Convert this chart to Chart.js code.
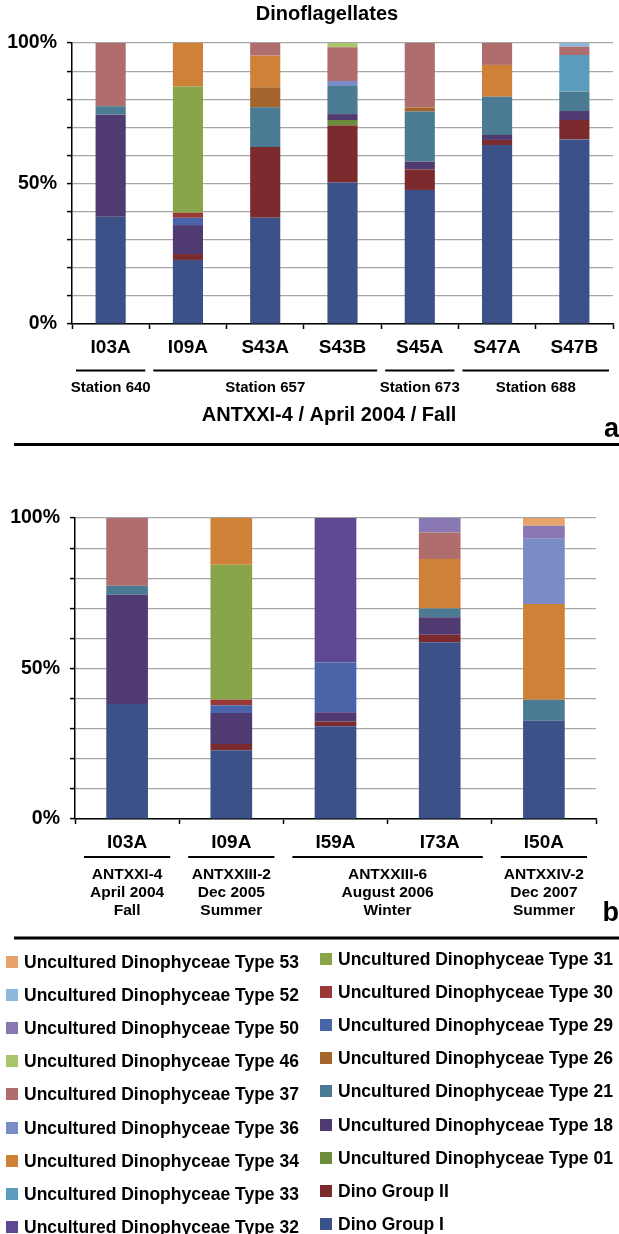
<!DOCTYPE html>
<html>
<head>
<meta charset="utf-8">
<script src="https://cdn.jsdelivr.net/npm/chart.js@4.4.1/dist/chart.umd.min.js"></script>
<style>
  body { margin: 0; background: #fff; }
  #page { position: relative; width: 619px; height: 1234px; background: #fff; overflow: hidden;
          font-family: "Liberation Sans", Arial, sans-serif; font-weight: bold; color: #000; }
  canvas { position: absolute; left: 0; }
  #chartA { top: 0; }
  #chartB { top: 455px; }
  .leg { position: absolute; font-size: 17.5px; line-height: 20px; white-space: nowrap; }
  .leg i { position: absolute; left: -18px; top: 4px; width: 12px; height: 12px; }
</style>
</head>
<body>
<div id="page">
  <canvas id="chartA" width="619" height="460"></canvas>
  <canvas id="chartB" width="619" height="500"></canvas>
</div>
<script>
const FONT = '"Liberation Sans", Arial, sans-serif';

// stack order, bottom to top
const seriesNames = [
  'Dino Group I', 'Dino Group II',
  'Uncultured Dinophyceae Type 01', 'Uncultured Dinophyceae Type 18',
  'Uncultured Dinophyceae Type 21', 'Uncultured Dinophyceae Type 26',
  'Uncultured Dinophyceae Type 29', 'Uncultured Dinophyceae Type 30',
  'Uncultured Dinophyceae Type 31', 'Uncultured Dinophyceae Type 32',
  'Uncultured Dinophyceae Type 33', 'Uncultured Dinophyceae Type 34',
  'Uncultured Dinophyceae Type 36', 'Uncultured Dinophyceae Type 37',
  'Uncultured Dinophyceae Type 46', 'Uncultured Dinophyceae Type 50',
  'Uncultured Dinophyceae Type 52', 'Uncultured Dinophyceae Type 53'
];
const seriesColors = [
  '#3d5189', '#7b2b2d', '#6b8c3a', '#4f3a72', '#4b7b92', '#a6652d',
  '#4a64aa', '#9a3838', '#89a54a', '#5e4891', '#5a9bbe', '#cf8138',
  '#7a8cc6', '#b06d6d', '#a8c66a', '#8a78b2', '#8db8dc', '#e6a46c'
];

const yTickLabels = [0, 50, 100];

// panel a
const categoriesA = ['I03A', 'I09A', 'S43A', 'S43B', 'S45A', 'S47A', 'S47B'];
const stationsA = ['Station 640', 'Station 657', 'Station 673', 'Station 688'];
const stationSpansA = [[0, 0], [1, 3], [4, 4], [5, 6]];
const cruiseA = 'ANTXXI-4 / April 2004 / Fall';

const a_dinoI  = [38.2, 22.8, 37.8, 50.4, 47.7, 63.7, 65.7];
const a_dinoII = [0, 2.1, 25.2, 20.2, 7.3, 1.8, 6.9];
const a_type01 = [0, 0, 0, 2.0, 0, 0, 0];
const a_type18 = [36.3, 10.3, 0, 2.1, 2.8, 1.8, 3.2];
const a_type21 = [3.0, 0, 14.1, 10.0, 17.8, 13.6, 6.9];
const a_type26 = [0, 0, 7.1, 0, 1.5, 0, 0];
const a_type29 = [0, 2.6, 0, 0, 0, 0, 0];
const a_type30 = [0, 1.8, 0, 0, 0, 0, 0];
const a_type31 = [0, 44.9, 0, 0, 0, 0, 0];
const a_type32 = [0, 0, 0, 0, 0, 0, 0];
const a_type33 = [0, 0, 0, 0, 0, 0, 13.0];
const a_type34 = [0, 15.5, 11.3, 0, 0, 11.3, 0];
const a_type36 = [0, 0, 0, 1.8, 0, 0, 0];
const a_type37 = [22.5, 0, 4.5, 12.0, 22.9, 7.8, 3.0];
const a_type46 = [0, 0, 0, 1.5, 0, 0, 0];
const a_type50 = [0, 0, 0, 0, 0, 0, 0];
const a_type52 = [0, 0, 0, 0, 0, 0, 1.3];
const a_type53 = [0, 0, 0, 0, 0, 0, 0];

// panel b
const categoriesB = ['I03A', 'I09A', 'I59A', 'I73A', 'I50A'];
const cruisesB = [
  ['ANTXXI-4', 'April 2004', 'Fall'],
  ['ANTXXIII-2', 'Dec 2005', 'Summer'],
  ['ANTXXIII-6', 'August 2006', 'Winter'],
  ['ANTXXIV-2', 'Dec 2007', 'Summer']
];
const cruiseSpansB = [[0, 0], [1, 1], [2, 3], [4, 4]];

const b_dinoI  = [38.2, 22.8, 30.8, 58.7, 32.7];
const b_dinoII = [0, 2.1, 1.6, 2.5, 0];
const b_type01 = [0, 0, 0, 0, 0];
const b_type18 = [36.3, 10.3, 3.1, 5.8, 0];
const b_type21 = [3.0, 0, 0, 2.9, 6.9];
const b_type26 = [0, 0, 0, 0, 0];
const b_type29 = [0, 2.6, 16.5, 0, 0];
const b_type30 = [0, 1.8, 0, 0, 0];
const b_type31 = [0, 44.9, 0, 0, 0];
const b_type32 = [0, 0, 48.0, 0, 0];
const b_type33 = [0, 0, 0, 0, 0];
const b_type34 = [0, 15.5, 0, 16.5, 31.8];
const b_type36 = [0, 0, 0, 0, 21.7];
const b_type37 = [22.5, 0, 0, 8.8, 0];
const b_type46 = [0, 0, 0, 0, 0];
const b_type50 = [0, 0, 0, 4.8, 4.3];
const b_type52 = [0, 0, 0, 0, 0];
const b_type53 = [0, 0, 0, 0, 2.6];

const valuesA = [a_dinoI, a_dinoII, a_type01, a_type18, a_type21, a_type26, a_type29, a_type30, a_type31,
                 a_type32, a_type33, a_type34, a_type36, a_type37, a_type46, a_type50, a_type52, a_type53];
const valuesB = [b_dinoI, b_dinoII, b_type01, b_type18, b_type21, b_type26, b_type29, b_type30, b_type31,
                 b_type32, b_type33, b_type34, b_type36, b_type37, b_type46, b_type50, b_type52, b_type53];

function annotations(o) {
  return {
    id: 'annot',
    afterDraw(chart) {
      const ctx = chart.ctx, x = chart.scales.x, area = chart.chartArea;
      const w = (x.right - x.left) / chart.data.labels.length;
      ctx.save();
      ctx.fillStyle = '#000';
      ctx.strokeStyle = '#000';
      ctx.textAlign = 'center';
      ctx.textBaseline = 'middle';
      if (o.title) {
        ctx.font = 'bold 20px ' + FONT;
        ctx.fillText(o.title, o.titleX, area.top - 29);
      }
      ctx.font = 'bold ' + o.groupSize + 'px ' + FONT;
      o.groups.forEach((g, i) => {
        const [s, e] = o.spans[i];
        const x0 = x.left + s * w + o.inset, x1 = x.left + (e + 1) * w - o.inset;
        ctx.lineWidth = 2;
        ctx.beginPath();
        ctx.moveTo(x0, area.bottom + o.lineY);
        ctx.lineTo(x1, area.bottom + o.lineY);
        ctx.stroke();
        [].concat(g).forEach((t, k) => ctx.fillText(t, (x0 + x1) / 2, area.bottom + o.textY + k * o.lh));
      });
      if (o.sub) {
        ctx.font = 'bold 20px ' + FONT;
        ctx.fillText(o.sub, o.subX, area.bottom + o.subY);
      }
      ctx.font = 'bold 27px ' + FONT;
      ctx.textAlign = 'right';
      ctx.fillText(o.letter, 619, area.bottom + o.letterY);
      ctx.lineWidth = 3;
      ctx.beginPath();
      ctx.moveTo(14, area.bottom + o.ruleY);
      ctx.lineTo(619, area.bottom + o.ruleY);
      ctx.stroke();
      ctx.restore();
    }
  };
}

function makeChart(id, labels, values, barPct, yWidth, padding, annot) {
  return new Chart(document.getElementById(id), {
    type: 'bar',
    data: {
      labels: labels,
      datasets: values.map((v, i) => ({
        label: seriesNames[i],
        data: v,
        backgroundColor: seriesColors[i],
        borderWidth: 0,
        barPercentage: barPct,
        categoryPercentage: 1
      }))
    },
    options: {
      responsive: false,
      animation: false,
      devicePixelRatio: 1,
      layout: { padding: padding },
      plugins: { legend: { display: false }, tooltip: { enabled: false } },
      scales: {
        x: {
          stacked: true,
          afterFit: s => { s.height = 30; },
          border: { color: '#000', width: 1.5 },
          grid: { drawOnChartArea: false, tickColor: '#000', tickLength: 5, tickWidth: 1.5 },
          ticks: { padding: 7, color: '#000', autoSkip: false, maxRotation: 0,
                   font: { family: FONT, size: 19, weight: 'bold' } }
        },
        y: {
          stacked: true, min: 0, max: 100,
          afterFit: s => { s.width = yWidth; },
          border: { color: '#000', width: 1.5 },
          grid: { color: '#a6a6a6', lineWidth: 1.2, tickColor: '#000', tickLength: 5, tickWidth: 1.5 },
          ticks: { stepSize: 10, padding: 10, color: '#000',
                   font: { family: FONT, size: 19.5, weight: 'bold' },
                   callback: v => yTickLabels.includes(v) ? v + '%' : '' }
        }
      }
    },
    plugins: [annotations(annot)]
  });
}

makeChart('chartA', categoriesA, valuesA, 0.39, 72, { top: 43, left: 0, right: 6, bottom: 106 }, {
  title: 'Dinoflagellates', titleX: 327,
  groups: stationsA, spans: stationSpansA, inset: 4, groupSize: 15,
  lineY: 46.5, textY: 64, lh: 17,
  sub: cruiseA, subX: 329, subY: 91,
  letter: 'a', letterY: 106, ruleY: 120.5
});

makeChart('chartB', categoriesB, valuesB, 0.40, 75, { top: 63, left: 0, right: 23, bottom: 106 }, {
  groups: cruisesB, spans: cruiseSpansB, inset: 9, groupSize: 15.5,
  lineY: 38, textY: 56, lh: 18,
  letter: 'b', letterY: 95, ruleY: 119
});

// shared legend, two columns, top-down
const page = document.getElementById('page');
const legendOrder = seriesNames.map((n, i) => i).reverse();
const legendTop = [962, 959];
legendOrder.forEach((idx, k) => {
  const col = k < 9 ? 0 : 1, row = k % 9;
  const el = document.createElement('div');
  el.className = 'leg';
  el.style.left = (col ? 338 : 24) + 'px';
  el.style.top = (legendTop[col] + row * 33.1 - 10) + 'px';
  el.innerHTML = '<i style="background:' + seriesColors[idx] + '"></i>' + seriesNames[idx];
  page.appendChild(el);
});
</script>
</body>
</html>
